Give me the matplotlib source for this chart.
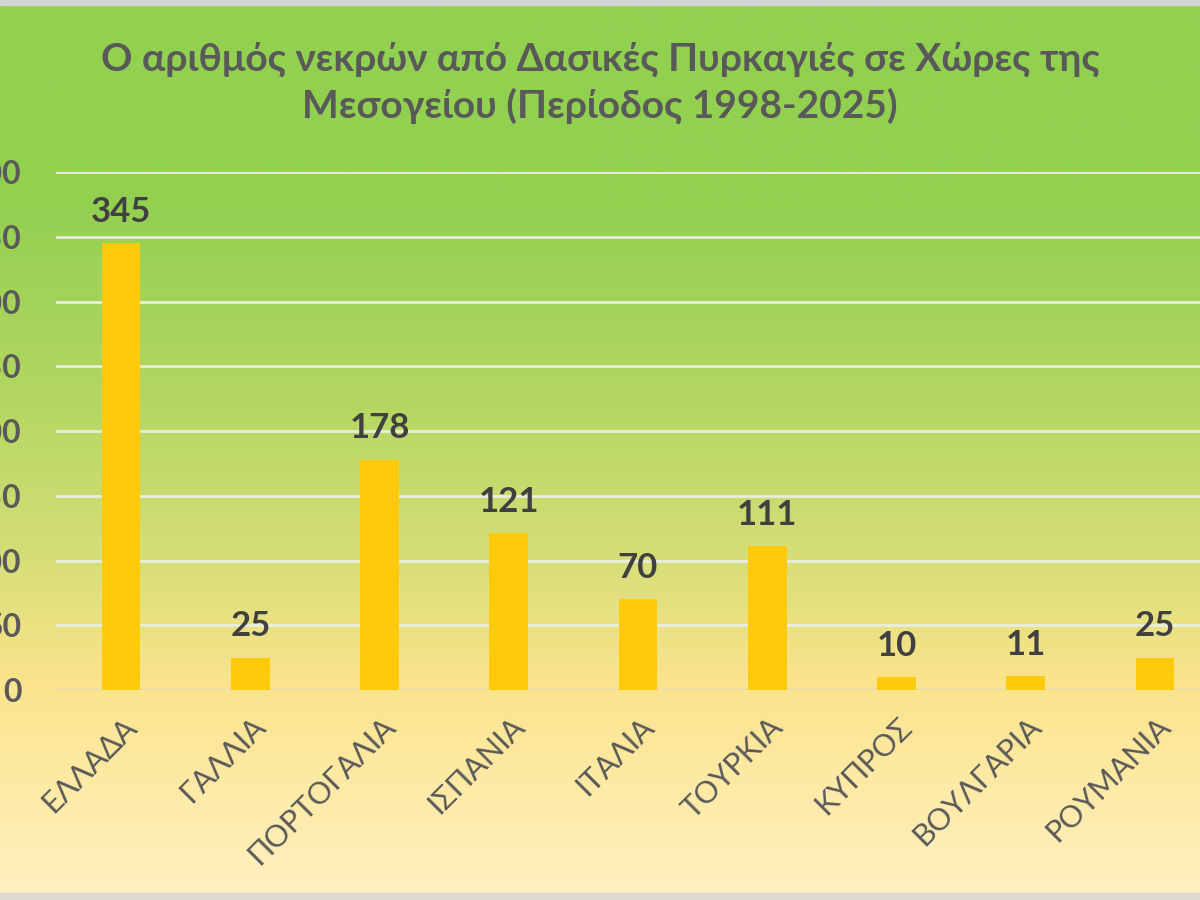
import numpy as np
import matplotlib
matplotlib.use('Agg')
import matplotlib.pyplot as plt
from matplotlib.colors import LinearSegmentedColormap
import matplotlib.transforms as mtransforms

plt.rcParams['font.family'] = ['Lato', 'Open Sans', 'DejaVu Sans']

# data
countries = ['ΕΛΛΑΔΑ', 'ΓΑΛΛΙΑ', 'ΠΟΡΤΟΓΑΛΙΑ', 'ΙΣΠΑΝΙΑ', 'ΙΤΑΛΙΑ',
             'ΤΟΥΡΚΙΑ', 'ΚΥΠΡΟΣ', 'ΒΟΥΛΓΑΡΙΑ', 'ΡΟΥΜΑΝΙΑ']
deaths = [345, 25, 178, 121, 70, 111, 10, 11, 25]
y_ticks = [0, 50, 100, 150, 200, 250, 300, 350, 400]
title = 'Ο αριθμός νεκρών από Δασικές Πυρκαγιές σε Χώρες της\nΜεσογείου (Περίοδος 1998-2025)'

text_col = '#595959'
bar_col = '#FFC90C'

fig = plt.figure(figsize=(12, 9), dpi=100)

# gradient background (green top -> pale yellow bottom)
bg = fig.add_axes([0, 0, 1, 1], zorder=-10)
cmap = LinearSegmentedColormap.from_list('bg', [
    (0.00, '#92D050'),
    (0.22, '#92D050'),
    (0.45, '#B5D762'),
    (0.62, '#D6DE78'),
    (0.76, '#FBE48C'),
    (1.00, '#FFF1C2'),
])
grad = np.linspace(0, 1, 512).reshape(-1, 1)
bg.imshow(grad, aspect='auto', cmap=cmap, extent=[0, 1, 0, 1], origin='upper')
# thin grey frame at the top and bottom edges
bg.axhspan(0.994, 1.0, color='#D4D4D4')
bg.axhspan(0.0, 0.008, color='#DCDAD0')
bg.set_xlim(0, 1)
bg.set_ylim(0, 1)
bg.axis('off')

ax = fig.add_axes([0.047, 0.2333, 0.9693, 0.5756])
ax.patch.set_alpha(0)

x = np.arange(len(countries))
ax.bar(x, deaths, width=0.30, color=bar_col, zorder=3)

for xi, v in zip(x, deaths):
    ax.annotate(str(v), (xi, v), xytext=(0, 11), textcoords='offset points',
                ha='center', va='bottom', fontsize=25, fontweight='bold',
                color='#404040', zorder=4)

ax.set_xlim(-0.5, len(countries) - 0.5)
ax.set_ylim(0, 400)
ax.set_yticks(y_ticks)
ax.grid(axis='y', color='#E9EDDC', linewidth=2.0, zorder=1)
ax.axhline(0, color='#DDD9C3', linewidth=2.2, zorder=2)
for s in ax.spines.values():
    s.set_visible(False)

# y tick labels sit partly outside the left edge, as in the cropped original
ax.tick_params(axis='y', length=0, pad=25, labelsize=23, labelcolor=text_col)
for lbl in ax.get_yticklabels():
    lbl.set_fontweight('bold')

ax.set_xticks(x)
ax.set_xticklabels(countries, rotation=45, ha='right', va='center',
                   rotation_mode='anchor', fontsize=22, color=text_col)
ax.tick_params(axis='x', length=0, pad=23)
offset = mtransforms.ScaledTranslation(11 / 100, 0, fig.dpi_scale_trans)
for lbl in ax.get_xticklabels():
    lbl.set_transform(lbl.get_transform() + offset)

fig.text(0.5, 0.908, title, ha='center', va='center', fontsize=28,
         fontweight='bold', color=text_col, linespacing=1.38)

fig.savefig('out.png', dpi=100)
